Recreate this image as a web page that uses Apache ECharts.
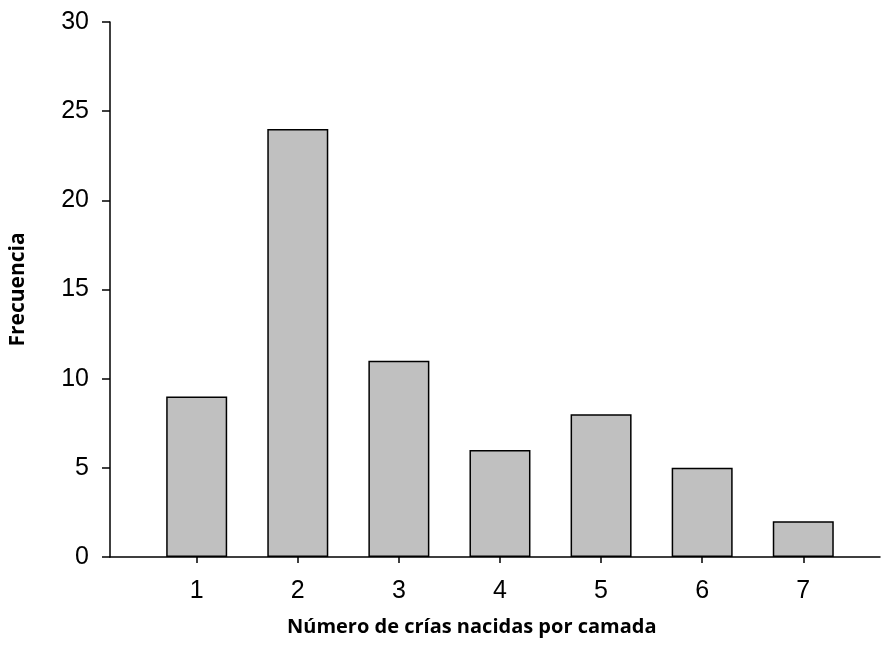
<!DOCTYPE html>
<html>
<head>
<meta charset="utf-8">
<script src="https://cdn.jsdelivr.net/npm/echarts@6/dist/echarts.min.js"></script>
<style>html,body{margin:0;padding:0;background:#fff}#c{width:881px;height:659px}</style>
</head>
<body>
<div id="c"></div>
<script>
var categories = [1, 2, 3, 4, 5, 6, 7];
var frequencies = [9, 24, 11, 6, 8, 5, 2];
var yTicks = [0, 5, 10, 15, 20, 25, 30];
var xTitle = 'Número de crías nacidas por camada';
var yTitle = 'Frecuencia';

var chart = echarts.init(document.getElementById('c'));
var barData = categories.map(function (c, i) { return [c, frequencies[i]]; });
chart.setOption({
  animation: false,
  backgroundColor: '#fff',
  grid: { left: 110, right: 1, top: 22, bottom: 102, containLabel: false, outerBoundsMode: 'none' },
  xAxis: {
    type: 'value', min: 0.1425, max: 7.759,
    splitLine: { show: false },
    axisLine: { lineStyle: { color: '#000', width: 1.5 } },
    axisTick: { show: true, length: 6, customValues: categories, lineStyle: { color: '#000', width: 1.5 } },
    axisLabel: { customValues: categories, color: '#000', fontFamily: 'Liberation Sans', fontSize: 25, margin: 22 }
  },
  yAxis: {
    type: 'value', min: 0, max: 30, interval: 5,
    name: yTitle, nameLocation: 'middle', nameGap: 81,
    nameTextStyle: { color: '#000', fontFamily: 'Open Sans', fontWeight: 'bold', fontSize: 21 },
    splitLine: { show: false },
    axisLine: { show: true, lineStyle: { color: '#000', width: 1.5 } },
    axisTick: { show: true, length: 8, lineStyle: { color: '#000', width: 1.5 } },
    axisLabel: { color: '#000', fontFamily: 'Liberation Sans', fontSize: 25, margin: 21 }
  },
  series: [{
    type: 'bar', data: barData, barWidth: 61,
    itemStyle: { color: '#c0c0c0', borderColor: '#000', borderWidth: 1.5 }
  }],
  graphic: [{
    type: 'text', left: 287, top: 617,
    style: { text: xTitle, fill: '#000', font: 'bold 20px "Open Sans"' }
  }]
});
</script>
</body>
</html>
